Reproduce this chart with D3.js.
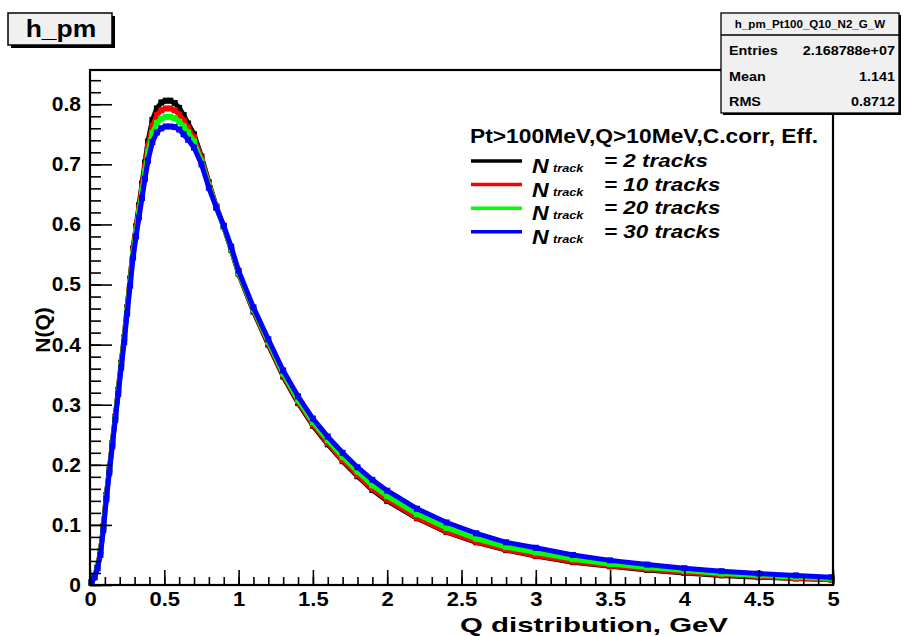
<!DOCTYPE html>
<html>
<head>
<meta charset="utf-8">
<script src="https://cdn.jsdelivr.net/npm/d3@7"></script>
<style>
body { margin: 0; background: #fff; }
svg text { font-family: "Liberation Sans", Arial, sans-serif; font-weight: bold; fill: #000; }
</style>
</head>
<body>
<div id="chart"></div>
<script>
// Q bin centres (GeV)
var qValues = [0.01,0.03,0.05,0.07,0.09,0.11,0.13,0.15,0.17,0.19,0.21,0.23,0.25,0.27,0.29,0.31,0.33,0.35,0.37,0.39,
  0.42,0.45,0.48,0.51,0.54,0.57,0.60,0.63,0.66,0.70,0.75,0.80,0.85,0.90,0.95,1.00,1.10,1.20,1.30,1.40,
  1.50,1.60,1.70,1.80,1.90,2.00,2.20,2.40,2.60,2.80,3.00,3.25,3.50,3.75,4.00,4.25,4.50,4.75,4.99];

var nTrack2 = [0.004,0.013,0.028,0.055,0.098,0.150,0.192,0.236,0.280,0.325,0.370,0.412,0.462,0.510,0.560,0.597,0.632,0.668,0.703,0.738,
  0.774,0.793,0.803,0.806,0.806,0.802,0.794,0.782,0.768,0.750,0.713,0.670,0.630,0.596,0.558,0.518,0.455,0.400,0.347,0.303,
  0.265,0.234,0.206,0.181,0.158,0.140,0.111,0.088,0.071,0.058,0.048,0.038,0.031,0.025,0.020,0.016,0.013,0.011,0.009];

var nTrack10 = [0.005,0.014,0.030,0.056,0.097,0.148,0.191,0.235,0.279,0.324,0.368,0.411,0.460,0.508,0.557,0.594,0.628,0.663,0.697,0.730,
  0.764,0.782,0.790,0.793,0.793,0.790,0.783,0.773,0.761,0.745,0.710,0.668,0.629,0.596,0.559,0.519,0.457,0.402,0.349,0.305,
  0.267,0.236,0.208,0.183,0.160,0.142,0.112,0.089,0.072,0.059,0.049,0.039,0.032,0.026,0.021,0.017,0.014,0.011,0.009];

var nTrack20 = [0.005,0.015,0.030,0.054,0.095,0.146,0.190,0.234,0.278,0.322,0.366,0.409,0.457,0.504,0.552,0.588,0.621,0.655,0.688,0.720,
  0.752,0.769,0.776,0.779,0.779,0.777,0.771,0.763,0.753,0.738,0.705,0.665,0.628,0.596,0.560,0.520,0.459,0.405,0.352,0.308,
  0.271,0.241,0.213,0.189,0.166,0.148,0.118,0.095,0.077,0.063,0.054,0.043,0.035,0.029,0.024,0.019,0.016,0.013,0.011];

var nTrack30 = [0.004,0.013,0.028,0.050,0.092,0.143,0.187,0.231,0.275,0.318,0.362,0.404,0.452,0.498,0.545,0.580,0.612,0.644,0.676,0.706,
  0.737,0.753,0.760,0.763,0.763,0.762,0.758,0.750,0.741,0.728,0.700,0.661,0.628,0.598,0.563,0.523,0.462,0.409,0.357,0.314,
  0.277,0.247,0.220,0.196,0.175,0.157,0.127,0.104,0.086,0.071,0.062,0.050,0.041,0.034,0.028,0.023,0.019,0.016,0.013];

var trackCounts = ['2', '10', '20', '30'];
var seriesColors = ['#000000', '#ff0000', '#00ff00', '#0000ff'];

var xMajor = [0, 0.5, 1, 1.5, 2, 2.5, 3, 3.5, 4, 4.5, 5];
var yMajor = [0, 0.1, 0.2, 0.3, 0.4, 0.5, 0.6, 0.7, 0.8];

var histTitle = 'h_pm';
var legendHeader = 'Pt>100MeV,Q>10MeV,C.corr, Eff.';
var statsTitle = 'h_pm_Pt100_Q10_N2_G_W';
var statsLabels = ['Entries', 'Mean', 'RMS'];
var statsValues = ['2.168788e+07', '1.141', '0.8712'];

var width = 908, height = 636;
var svg = d3.select('#chart').append('svg').attr('width', width).attr('height', height);

var padL = 90, padR = 833, padT = 70, padB = 585;
var x = d3.scaleLinear().domain([0, 5]).range([padL, padR]);
var y = d3.scaleLinear().domain([0, 0.857]).range([padB, padT]);

// the picture is a bit wider than its fonts, so widen glyphs a little
function widen(sel, k) {
	sel.each(function() {
		var w = this.getComputedTextLength();
		d3.select(this).attr('textLength', w * (k || 1.15)).attr('lengthAdjust', 'spacingAndGlyphs');
	});
}

// curves
var series = [nTrack2, nTrack10, nTrack20, nTrack30];
var line = d3.line()
	.x(function(d) { return x(d[0]); })
	.y(function(d) { return y(d[1]); });

series.forEach(function(vals, i) {
	var pts = qValues.map(function(q, j) { return [q, vals[j]]; });
	var g = svg.append('g');
	g.append('path')
		.attr('d', line(pts))
		.attr('fill', 'none')
		.attr('stroke', seriesColors[i])
		.attr('stroke-width', 5)
		.attr('stroke-linejoin', 'round');
	g.selectAll('rect')
		.data(pts)
		.enter()
		.append('rect')
		.attr('x', function(d) { return x(d[0]) - 3; })
		.attr('y', function(d) { return y(d[1]) - 3; })
		.attr('width', 6)
		.attr('height', 6)
		.attr('fill', seriesColors[i]);
});

// axes (ROOT style: ticks inside)
var xAxis = svg.append('g').attr('transform', 'translate(0,' + padB + ')')
	.call(d3.axisBottom(x).tickValues(xMajor).tickSize(-15).tickPadding(7).tickFormat(d3.format('~g')));
svg.append('g').attr('transform', 'translate(0,' + padB + ')')
	.call(d3.axisBottom(x).tickValues(d3.range(0, 5.001, 0.1)).tickSize(-8).tickFormat(''));

var yAxis = svg.append('g').attr('transform', 'translate(' + padL + ',0)')
	.call(d3.axisLeft(y).tickValues(yMajor).tickSize(-22).tickPadding(9).tickFormat(d3.format('~g')));
svg.append('g').attr('transform', 'translate(' + padL + ',0)')
	.call(d3.axisLeft(y).tickValues(d3.range(0, 0.857, 0.02)).tickSize(-11).tickFormat(''));

svg.selectAll('.domain').remove();
svg.selectAll('.tick line').attr('stroke', '#000').attr('stroke-width', 1.6);
xAxis.selectAll('text').style('font-size', '20px').attr('fill', '#000');
yAxis.selectAll('text').style('font-size', '20px').attr('fill', '#000');
widen(xAxis.selectAll('text'), 1.1);
widen(yAxis.selectAll('text'), 1.05);

// frame
svg.append('rect')
	.attr('x', padL).attr('y', padT)
	.attr('width', padR - padL).attr('height', padB - padT)
	.attr('fill', 'none').attr('stroke', '#000').attr('stroke-width', 2.2);

// axis titles
svg.append('text')
	.attr('x', 728).attr('y', 632)
	.attr('text-anchor', 'end')
	.attr('textLength', 268).attr('lengthAdjust', 'spacingAndGlyphs')
	.style('font-size', '21px')
	.text('Q distribution, GeV');

svg.append('text')
	.attr('transform', 'translate(50,330) rotate(-90)')
	.attr('text-anchor', 'middle')
	.style('font-size', '21px')
	.text('N(Q)');

// title box
svg.append('rect').attr('x', 11).attr('y', 16).attr('width', 104).attr('height', 32).attr('fill', '#000');
svg.append('rect').attr('x', 8).attr('y', 13).attr('width', 104).attr('height', 32)
	.attr('fill', '#f0f0f0').attr('stroke', '#000').attr('stroke-width', 1.5);
var tt = svg.append('text').attr('x', 61).attr('y', 37).attr('text-anchor', 'middle')
	.style('font-size', '23px').text(histTitle);
widen(tt);

// stats box
svg.append('rect').attr('x', 723).attr('y', 15).attr('width', 178).attr('height', 100).attr('fill', '#000');
svg.append('rect').attr('x', 721).attr('y', 13).attr('width', 178).attr('height', 100)
	.attr('fill', '#f0f0f0').attr('stroke', '#000').attr('stroke-width', 1.3);
svg.append('line').attr('x1', 721).attr('x2', 899).attr('y1', 35).attr('y2', 35)
	.attr('stroke', '#000').attr('stroke-width', 1.3);
var st = svg.append('text').attr('x', 810).attr('y', 28).attr('text-anchor', 'middle')
	.style('font-size', '10.5px').text(statsTitle);
widen(st, 1.1);
statsLabels.forEach(function(lab, i) {
	var yy = 55 + i * 25.5;
	widen(svg.append('text').attr('x', 729).attr('y', yy).style('font-size', '12.5px').text(lab));
	widen(svg.append('text').attr('x', 895).attr('y', yy).attr('text-anchor', 'end')
		.style('font-size', '12.5px').text(statsValues[i]));
});

// legend
var lh = svg.append('text').attr('x', 470).attr('y', 143).style('font-size', '20px').text(legendHeader);
widen(lh, 1.14);
trackCounts.forEach(function(n, i) {
	var c = 161 + i * 23.6;
	svg.append('line').attr('x1', 471).attr('x2', 522).attr('y1', c).attr('y2', c)
		.attr('stroke', seriesColors[i]).attr('stroke-width', 3.5);
	widen(svg.append('text').attr('x', 532).attr('y', c + 12).style('font-size', '20px')
		.style('font-style', 'italic').text('N'));
	widen(svg.append('text').attr('x', 553).attr('y', c + 11).style('font-size', '11px')
		.style('font-style', 'italic').text('track'));
	widen(svg.append('text').attr('x', 604).attr('y', c + 6).style('font-size', '19px')
		.style('font-style', 'italic').text('= ' + n + ' tracks'), 1.18);
});
</script>
</body>
</html>
